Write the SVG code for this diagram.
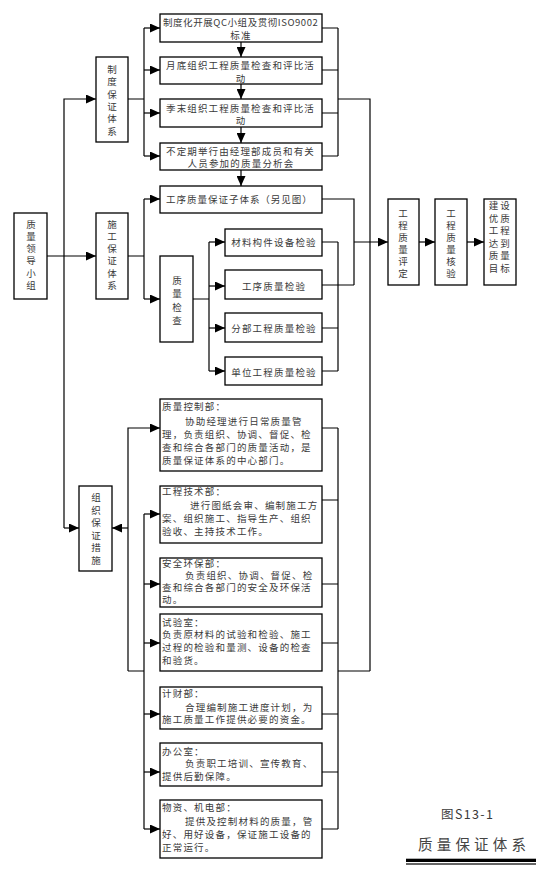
<svg xmlns="http://www.w3.org/2000/svg" width="548" height="874" viewBox="0 0 548 874">
<style>
.bx{fill:#fff;stroke:#000;stroke-width:1.3}
.ln{fill:none;stroke:#000;stroke-width:1.2}
.ar{fill:none;stroke:#000;stroke-width:1.2;marker-end:url(#arr)}
text{font-family:"Noto Sans CJK SC","Noto Sans",sans-serif;font-size:9.5px;fill:#3a3a3a;dominant-baseline:central;letter-spacing:1.2px}
.c{text-anchor:middle}
.v{text-anchor:middle;letter-spacing:0}
</style>
<defs>
<marker id="arr" markerUnits="userSpaceOnUse" markerWidth="10" markerHeight="9" refX="10" refY="4.5" orient="auto">
<path d="M0,0 L10,4.5 L0,9 Z" fill="#000"/>
</marker>
</defs>
<rect width="548" height="874" fill="#fff"/>

<g id="connectors">
<path class="ar" d="M64,528 V99 H96"/>
<path class="ar" d="M64,528 H79"/>
<path class="ar" d="M47,256 H96"/>
<path class="ln" d="M128,99 H144 M144,28 V156"/>
<path class="ar" d="M144,28 H160"/>
<path class="ar" d="M144,70 H160"/>
<path class="ar" d="M144,113 H160"/>
<path class="ar" d="M144,156 H160"/>
<path class="ar" d="M241,42 V57"/>
<path class="ar" d="M241,84 V99"/>
<path class="ar" d="M241,127 V143"/>
<path class="ar" d="M241,170 V186"/>
<path class="ln" d="M322,28 H338 M322,70 H338 M322,113 H338 M322,156 H338 M338,28 V156 M338,99 H370 V671"/>
<path class="ln" d="M128,256 H144 M144,199 V299"/>
<path class="ar" d="M144,199 H160"/>
<path class="ar" d="M144,299 H160"/>
<path class="ln" d="M193,299 H209 M209,242 V371"/>
<path class="ar" d="M209,242 H225"/>
<path class="ar" d="M209,286 H225"/>
<path class="ar" d="M209,328 H225"/>
<path class="ar" d="M209,371 H225"/>
<path class="ln" d="M322,242 H338 M322,328 H338 M322,371 H338 M338,242 V371 M322,285 H354 M322,199 H354 V285"/>
<path class="ar" d="M354,242 H388"/>
<path class="ar" d="M419,242 H435"/>
<path class="ar" d="M467,242 H484"/>
<path class="ln" d="M322,428 H338 M322,500 H338 M322,584 H338 M322,643 H338 M322,714 H338 M322,772 H338 M322,829 H338 M338,428 V829 M338,671 H370"/>
<path class="ar" d="M128,671 V428 H160"/>
<path class="ar" d="M128,528 H112"/>
<path class="ln" d="M128,671 H144 M144,514 V829"/>
<path class="ar" d="M144,514 H160"/>
<path class="ar" d="M144,584 H160"/>
<path class="ar" d="M144,643 H160"/>
<path class="ar" d="M144,714 H160"/>
<path class="ar" d="M144,772 H160"/>
<path class="ar" d="M144,829 H160"/>
</g>

<g id="n-lead">
<rect class="bx" x="14" y="213" width="33" height="86"/>
<text class="v"><tspan x="31" y="223.5">质</tspan><tspan x="31" y="235.8">量</tspan><tspan x="31" y="248.1">领</tspan><tspan x="31" y="260.4">导</tspan><tspan x="31" y="272.7">小</tspan><tspan x="31" y="285">组</tspan></text>
</g>

<g id="n-zhidu">
<rect class="bx" x="96" y="57" width="32" height="85"/>
<text class="v"><tspan x="112" y="69">制</tspan><tspan x="112" y="81.3">度</tspan><tspan x="112" y="93.6">保</tspan><tspan x="112" y="105.9">证</tspan><tspan x="112" y="118.2">体</tspan><tspan x="112" y="130.5">系</tspan></text>
</g>

<g id="n-shigong">
<rect class="bx" x="96" y="213" width="32" height="86"/>
<text class="v"><tspan x="112" y="223.5">施</tspan><tspan x="112" y="235.8">工</tspan><tspan x="112" y="248.1">保</tspan><tspan x="112" y="260.4">证</tspan><tspan x="112" y="272.7">体</tspan><tspan x="112" y="285">系</tspan></text>
</g>

<g id="n-zuzhi">
<rect class="bx" x="79" y="486" width="33" height="85"/>
<text class="v"><tspan x="96" y="497">组</tspan><tspan x="96" y="509.6">织</tspan><tspan x="96" y="522.2">保</tspan><tspan x="96" y="534.8">证</tspan><tspan x="96" y="547.4">措</tspan><tspan x="96" y="560">施</tspan></text>
</g>

<g id="n-qc">
<rect class="bx" x="160" y="14" width="162" height="28"/>
<text x="163" y="21.5" textLength="156" lengthAdjust="spacing">制度化开展QC小组及贯彻ISO9002</text>
<text class="c" x="241" y="35">标准</text>
</g>
<g id="n-month">
<rect class="bx" x="160" y="57" width="162" height="27"/>
<text x="166" y="65.3" textLength="149" lengthAdjust="spacing">月底组织工程质量检查和评比活</text>
<text class="c" x="241" y="77.5">动</text>
</g>
<g id="n-season">
<rect class="bx" x="160" y="99" width="162" height="28"/>
<text x="166" y="107.8" textLength="149" lengthAdjust="spacing">季末组织工程质量检查和评比活</text>
<text class="c" x="241" y="120.2">动</text>
</g>
<g id="n-meeting">
<rect class="bx" x="160" y="143" width="162" height="27"/>
<text x="166" y="151" textLength="149" lengthAdjust="spacing">不定期举行由经理部成员和有关</text>
<text class="c" x="241" y="163.3">人员参加的质量分析会</text>
</g>
<g id="n-process-sub">
<rect class="bx" x="160" y="186" width="162" height="27"/>
<text x="166" y="199.3" textLength="147" lengthAdjust="spacing">工序质量保证子体系（另见图）</text>
</g>

<g id="n-check">
<rect class="bx" x="160" y="256" width="33" height="86"/>
<text class="v"><tspan x="177" y="280">质</tspan><tspan x="177" y="293.3">量</tspan><tspan x="177" y="306.7">检</tspan><tspan x="177" y="320">查</tspan></text>
</g>

<g id="n-material">
<rect class="bx" x="225" y="229" width="97" height="27"/>
<text class="c" x="274" y="242">材料构件设备检验</text>
</g>
<g id="n-process">
<rect class="bx" x="225" y="270" width="97" height="29"/>
<text class="c" x="274" y="285.7">工序质量检验</text>
</g>
<g id="n-part">
<rect class="bx" x="225" y="313" width="97" height="29"/>
<text class="c" x="274" y="328">分部工程质量检验</text>
</g>
<g id="n-unit">
<rect class="bx" x="225" y="357" width="97" height="28"/>
<text class="c" x="274" y="372">单位工程质量检验</text>
</g>

<g id="n-assess">
<rect class="bx" x="388" y="199" width="31" height="86"/>
<text class="v"><tspan x="403" y="213">工</tspan><tspan x="403" y="225">程</tspan><tspan x="403" y="237">质</tspan><tspan x="403" y="249">量</tspan><tspan x="403" y="261">评</tspan><tspan x="403" y="273">定</tspan></text>
</g>
<g id="n-verify">
<rect class="bx" x="435" y="199" width="32" height="86"/>
<text class="v"><tspan x="451" y="213">工</tspan><tspan x="451" y="225">程</tspan><tspan x="451" y="237">质</tspan><tspan x="451" y="249">量</tspan><tspan x="451" y="261">核</tspan><tspan x="451" y="273">验</tspan></text>
</g>
<g id="n-goal">
<rect class="bx" x="484" y="199" width="32" height="86"/>
<text class="v"><tspan x="493.5" y="205">建</tspan><tspan x="505" y="205">设</tspan><tspan x="493.5" y="217.6">优</tspan><tspan x="505" y="217.6">质</tspan><tspan x="493.5" y="230.2">工</tspan><tspan x="505" y="230.2">程</tspan><tspan x="493.5" y="242.8">达</tspan><tspan x="505" y="242.8">到</tspan><tspan x="493.5" y="255.4">质</tspan><tspan x="505" y="255.4">量</tspan><tspan x="493.5" y="268">目</tspan><tspan x="505" y="268">标</tspan></text>
</g>

<g id="n-qcdept">
<rect class="bx" x="160" y="399" width="162" height="72"/>
<text x="162" y="405.7">质量控制部：</text>
<text x="185" y="420.7">协助经理进行日常质量管</text>
<text x="162" y="434">理，负责组织、协调、督促、检</text>
<text x="162" y="447">查和综合各部门的质量活动，是</text>
<text x="162" y="460">质量保证体系的中心部门。</text>
</g>
<g id="n-tech">
<rect class="bx" x="160" y="486" width="162" height="57"/>
<text x="162" y="491">工程技术部：</text>
<text x="190" y="505">进行图纸会审、编制施工方</text>
<text x="162" y="518">案、组织施工、指导生产、组织</text>
<text x="162" y="531">验收、主持技术工作。</text>
</g>
<g id="n-safety">
<rect class="bx" x="160" y="558" width="162" height="49"/>
<text x="162" y="563.3">安全环保部：</text>
<text x="185" y="575">负责组织、协调、督促、检</text>
<text x="162" y="587">查和综合各部门的安全及环保活</text>
<text x="162" y="599">动。</text>
</g>
<g id="n-lab">
<rect class="bx" x="160" y="614" width="162" height="57"/>
<text x="162" y="622">试验室：</text>
<text x="162" y="634">负责原材料的试验和检验、施工</text>
<text x="162" y="647">过程的检验和量测、设备的检查</text>
<text x="162" y="660">和验货。</text>
</g>
<g id="n-finance">
<rect class="bx" x="160" y="687" width="162" height="42"/>
<text x="162" y="693.3">计财部：</text>
<text x="185" y="706.5">合理编制施工进度计划，为</text>
<text x="162" y="718.8">施工质量工作提供必要的资金。</text>
</g>
<g id="n-office">
<rect class="bx" x="160" y="743" width="162" height="43"/>
<text x="162" y="750.5">办公室：</text>
<text x="185" y="763.3">负责职工培训、宣传教育、</text>
<text x="162" y="776">提供后勤保障。</text>
</g>
<g id="n-material-dept">
<rect class="bx" x="160" y="800" width="162" height="58"/>
<text x="162" y="807.3">物资、机电部：</text>
<text x="185" y="821">提供及控制材料的质量，管</text>
<text x="162" y="833.8">好、用好设备，保证施工设备的</text>
<text x="162" y="846.7">正常运行。</text>
</g>

<g id="caption">
<text x="441" y="813" style="font-size:12.5px;letter-spacing:0" textLength="52" lengthAdjust="spacing">图S13-1</text>
<text x="418" y="843" style="font-size:14.5px;letter-spacing:0;fill:#444" textLength="108" lengthAdjust="spacing">质量保证体系</text>
<rect x="406" y="858.7" width="130" height="3.3" fill="#000"/>
<rect x="406" y="863.4" width="130" height="1.2" fill="#000"/>
</g>
</svg>
